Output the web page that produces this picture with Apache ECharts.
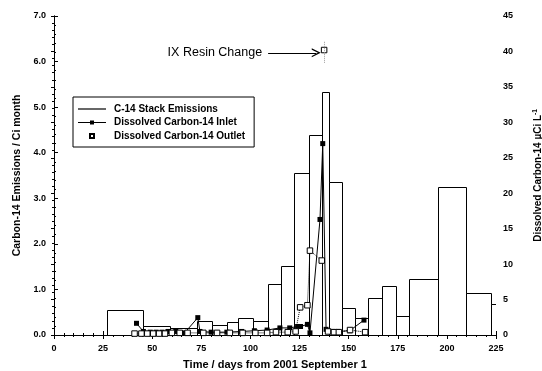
<!DOCTYPE html>
<html>
<head>
<meta charset="utf-8">
<script src="https://cdn.jsdelivr.net/npm/echarts@6/dist/echarts.min.js"></script>
<style>
  html, body { margin: 0; padding: 0; background: #fff; }
  #chart { width: 542px; height: 371px; }
</style>
</head>
<body>
<div id="chart"></div>
<script>
// C-14 stack emissions per collection period (Ci / month), period start/end in days
const binStart = [27, 45.3, 59, 72.8, 80.4, 88, 93.7, 101.3, 109, 115.6, 122.2, 129.8, 136.5, 140, 146.6, 153.3, 159.9, 167, 174.1, 180.8, 195.5, 209.8, 222.5];
const binEnd   = [45.3, 59, 72.8, 80.4, 88, 93.7, 101.3, 109, 115.6, 122.2, 129.8, 136.5, 140, 146.6, 153.3, 159.9, 167, 174.1, 180.8, 195.5, 209.8, 222.5, 225];
const stackEmissions = [0.55, 0.2, 0.15, 0.3, 0.22, 0.28, 0.37, 0.31, 1.12, 1.51, 3.55, 4.38, 5.33, 3.35, 0.59, 0.38, 0.81, 1.08, 0.42, 1.23, 3.25, 0.92, 0.68];

// Dissolved C-14 at the ion-exchange inlet (µCi/L)
const inletDays   = [42, 45.5, 49, 52, 55, 58, 62, 66.5, 73.2, 74.3, 80, 88, 95.5, 102, 108.5, 115, 120, 124, 125.5, 129, 130.3, 135.4, 136.8, 138.5, 142, 144.5, 150.5, 157.8];
const inletValues = [1.65, 0.5, 0.4, 0.4, 0.4, 0.5, 0.5, 0.3, 2.45, 0.5, 0.4, 0.4, 0.5, 0.6, 0.7, 1.0, 1.0, 1.2, 1.2, 1.5, 0.3, 16.3, 27, 0.8, 0.5, 0.5, 0.6, 2.1];

// Dissolved C-14 at the ion-exchange outlet (µCi/L); '-' breaks the line around the resin change sample
const outletDays   = [41, 44.5, 47.5, 50.5, 53.5, 56.5, 60, 64, 68, 76, 83, 89.5, 96, 102.5, 108.5, 113, 119, 123, 125.3, 129, 130.3, 136.3, 137, 137.5, 138, 139.5, 142.5, 145, 150.7, 158.4];
const outletValues = [0.2, 0.2, 0.2, 0.2, 0.2, 0.2, 0.3, 0.3, 0.3, 0.3, 0.3, 0.3, 0.3, 0.3, 0.3, 0.4, 0.4, 0.5, 3.9, 4.2, 11.9, 10.5, '-', 40.2, '-', 0.5, 0.4, 0.4, 0.7, 0.4];

// Resin change annotation
const resinChangeDay = 137.5;
const resinChangeValue = 40.2;
const resinLabel = 'IX Resin Change';

const FONT = '"Liberation Sans", Arial, Helvetica, sans-serif';

const emissionData = binStart.map((s, i) => [s, binEnd[i], stackEmissions[i]]);
const inletData = inletDays.map((d, i) => [d, inletValues[i]]);
const outletData = outletDays.map((d, i) => [d, outletValues[i]]);

const chart = echarts.init(document.getElementById('chart'), null, { renderer: 'canvas' });

const tickLabel = { fontFamily: FONT, fontWeight: 'bold', fontSize: 9, color: '#000' };
const axisLineBlack = { show: true, lineStyle: { color: '#000', width: 1 } };

chart.setOption({
  animation: false,
  backgroundColor: '#fff',
  grid: { left: 54, right: 46, top: 16, bottom: 36, containLabel: false, outerBoundsMode: 'none' },
  legend: {
    orient: 'vertical',
    left: 73,
    top: 97,
    padding: [7, 9, 6, 4],
    itemGap: 3.5,
    itemWidth: 28,
    itemHeight: 5,
    borderColor: '#000',
    borderWidth: 1,
    borderRadius: 0,
    backgroundColor: '#fff',
    selectedMode: false,
    textStyle: { fontFamily: FONT, fontWeight: 'bold', fontSize: 10, color: '#000', padding: [0, 0, 0, 3] },
    data: [
      { name: 'C-14 Stack Emissions', icon: 'path://M0,0H28V1.2H0Z', itemStyle: { color: '#000', borderWidth: 0 } },
      { name: 'Dissolved Carbon-14 Inlet', lineStyle: { width: 1 } },
      { name: 'Dissolved Carbon-14 Outlet', lineStyle: { opacity: 0 } }
    ]
  },
  xAxis: [
    {
      type: 'value', min: 0, max: 225, interval: 25, position: 'bottom',
      axisLine: axisLineBlack,
      axisTick: { show: true, inside: true, length: 4, lineStyle: { color: '#000' } },
      minorTick: { show: true, splitNumber: 5, length: 2, lineStyle: { color: '#000' } },
      splitLine: { show: false },
      axisLabel: Object.assign({ margin: 9 }, tickLabel),
      name: 'Time / days from 2001 September 1',
      nameLocation: 'middle',
      nameGap: 24,
      nameTextStyle: { fontFamily: FONT, fontWeight: 'bold', fontSize: 11, color: '#000' }
    },
    {
      type: 'value', min: 0, max: 225, interval: 25, position: 'top',
      axisLine: { show: true, lineStyle: { color: '#000', width: 1 } },
      axisTick: { show: true, inside: true, length: 4, lineStyle: { color: '#000' } },
      minorTick: { show: true, splitNumber: 5, length: 2, lineStyle: { color: '#000' } },
      splitLine: { show: false },
      axisLabel: { show: false }
    }
  ],
  yAxis: [
    {
      type: 'value', min: 0, max: 7, interval: 1, position: 'left',
      axisLine: axisLineBlack,
      axisTick: { show: true, inside: true, length: 4, lineStyle: { color: '#000' } },
      minorTick: { show: true, splitNumber: 5, length: 2, lineStyle: { color: '#000' } },
      splitLine: { show: false },
      axisLabel: Object.assign({ margin: 8, formatter: v => v.toFixed(1) }, tickLabel),
      name: 'Carbon-14 Emissions / Ci month',
      nameLocation: 'middle',
      nameGap: 27,
      nameTextStyle: { fontFamily: FONT, fontWeight: 'bold', fontSize: 10.5, color: '#000' }
    },
    {
      type: 'value', min: 0, max: 45, interval: 5, position: 'right',
      axisLine: { show: true, lineStyle: { color: '#000', width: 1, type: 'dotted' } },
      axisTick: { show: true, inside: true, length: 3, lineStyle: { color: '#000' } },
      minorTick: { show: true, splitNumber: 5, length: 2, lineStyle: { color: '#000' } },
      splitLine: { show: false },
      axisLabel: Object.assign({ margin: 7 }, tickLabel),
      name: 'Dissolved Carbon-14 µCi L{sup|-1}',
      nameLocation: 'middle',
      nameRotate: 90,
      nameGap: 36,
      nameTextStyle: {
        fontFamily: FONT, fontWeight: 'bold', fontSize: 10, color: '#000',
        rich: { sup: { fontFamily: FONT, fontWeight: 'bold', fontSize: 6.5, color: '#000', verticalAlign: 'top', padding: [0, 0, 5, 0] } }
      }
    }
  ],
  series: [
    {
      name: 'C-14 Stack Emissions',
      type: 'custom',
      xAxisIndex: 0,
      yAxisIndex: 0,
      z: 1,
      itemStyle: { color: '#000' },
      encode: { x: [0, 1], y: 2 },
      data: emissionData,
      clip: true,
      renderItem: function (params, api) {
        const p0 = api.coord([api.value(0), api.value(2)]);
        const p1 = api.coord([api.value(1), 0]);
        const x0 = Math.round(p0[0]) + 0.5;
        const x1 = Math.round(p1[0]) + 0.5;
        const y0 = Math.round(p0[1]) + 0.5;
        const y1 = Math.round(p1[1]) + 0.5;
        return {
          type: 'rect',
          shape: { x: x0, y: y0, width: x1 - x0, height: y1 - y0 },
          style: { fill: '#fff', stroke: '#000', lineWidth: 1 }
        };
      }
    },
    {
      name: 'Dissolved Carbon-14 Inlet',
      type: 'line',
      xAxisIndex: 0,
      yAxisIndex: 1,
      z: 3,
      data: inletData,
      symbol: 'rect',
      symbolSize: 5,
      showSymbol: true,
      showAllSymbol: true,
      itemStyle: { color: '#000' },
      lineStyle: { color: '#000', width: 1 },
      emphasis: { disabled: true }
    },
    {
      name: 'Dissolved Carbon-14 Outlet',
      type: 'line',
      xAxisIndex: 0,
      yAxisIndex: 1,
      z: 4,
      data: outletData,
      connectNulls: false,
      symbol: 'rect',
      symbolSize: 5.5,
      showSymbol: true,
      showAllSymbol: true,
      itemStyle: { color: '#fff', borderColor: '#000', borderWidth: 1 },
      lineStyle: { color: '#000', width: 1, type: 'dotted' },
      emphasis: { disabled: true },
      markLine: {
        silent: true,
        animation: false,
        symbol: ['none', 'path://M0,10L5,0L10,10L8.4,10L5,3.2L1.6,10Z'],
        symbolSize: 9,
        lineStyle: { color: '#000', width: 1, type: 'solid' },
        label: { show: false },
        emphasis: { disabled: true },
        data: [
          [
            {
              coord: [resinChangeDay - 28.5, resinChangeValue - 0.4],
              label: {
                show: true, position: 'start', distance: 6, formatter: resinLabel,
                fontFamily: FONT, fontSize: 12.5, color: '#000'
              }
            },
            { coord: [resinChangeDay - 4, resinChangeValue - 0.4] }
          ],
          [
            { coord: [resinChangeDay, resinChangeValue - 1.8], symbol: 'none', lineStyle: { color: '#999', type: 'dotted', width: 1 } },
            { coord: [resinChangeDay, resinChangeValue + 1.3], symbol: 'none' }
          ]
        ]
      }
    }
  ]
});
</script>
</body>
</html>
